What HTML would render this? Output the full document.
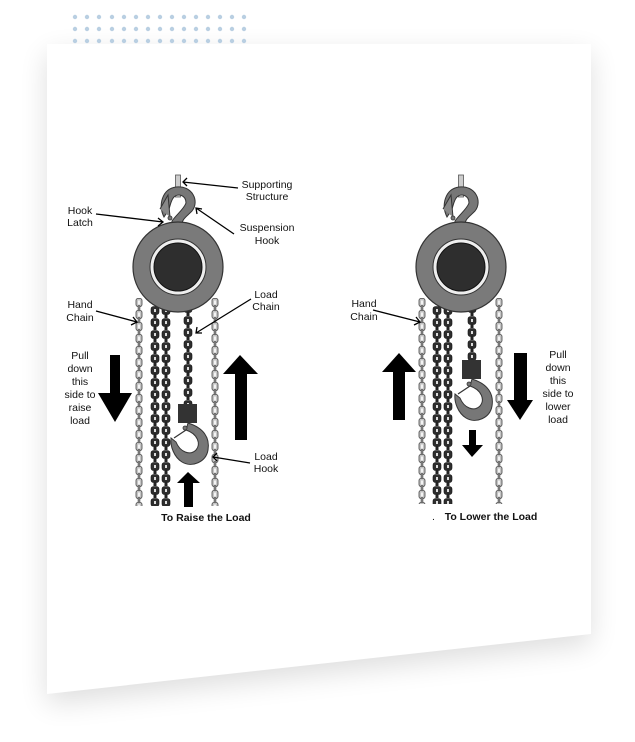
<!DOCTYPE html>
<html><head><meta charset="utf-8"><style>
html,body{margin:0;padding:0;background:#fff;}
svg{display:block}
text{font-family:"Liberation Sans",Arial,sans-serif;font-size:10.5px;fill:#111}
</style></head><body>
<svg width="635" height="742" viewBox="0 0 635 742" xmlns="http://www.w3.org/2000/svg">
<defs>
<filter id="sh" x="-20%" y="-20%" width="140%" height="140%"><feGaussianBlur stdDeviation="14"/></filter>
<pattern id="hand" x="-4" y="0" width="8" height="12" patternUnits="userSpaceOnUse">
<rect x="1" y="0.5" width="6" height="8" rx="2" fill="#c4c4c4" stroke="#444" stroke-width="0.8"/>
<rect x="3.2" y="2.5" width="1.6" height="4" fill="#fff"/>
<rect x="3" y="7.5" width="2" height="5" fill="#888" stroke="#444" stroke-width="0.5"/>
</pattern>
<pattern id="dark" x="-5" y="0" width="10" height="12" patternUnits="userSpaceOnUse">
<rect x="1" y="0.5" width="8" height="8" rx="2.5" fill="#2e2e2e" stroke="#111" stroke-width="0.6"/>
<rect x="4" y="3" width="2" height="3" fill="#ddd"/>
<rect x="3.5" y="7.5" width="3" height="5" fill="#222"/>
</pattern>
<g id="hoist">
<rect x="-2.5" y="-92" width="5" height="22" fill="#ccc" stroke="#555" stroke-width="0.8"/>
<path d="M-14 -50 C-20 -62 -16 -78 -2 -80 C14 -82 22 -66 14 -56 C8 -50 4 -48 4 -42 L6 -40 L-6 -40 L-6 -46 C-2 -52 6 -58 8 -64 C8 -72 0 -74 -4 -70 C-8 -66 -8 -58 -10 -56 Z" fill="#777" stroke="#333" stroke-width="1"/>
<path d="M-18 -58 L-10 -72 L-8 -50" fill="#888" stroke="#333" stroke-width="1"/>
<circle cx="-8" cy="-49" r="2" fill="#777" stroke="#333" stroke-width="0.8"/>
<circle cx="0" cy="0" r="45" fill="#7a7a7a" stroke="#333" stroke-width="1.2"/>
<circle cx="0" cy="0" r="28" fill="#eee" stroke="#333" stroke-width="1"/>
<circle cx="0" cy="0" r="24" fill="#2e2e2e" stroke="#111" stroke-width="1"/>
</g>
<g id="hook">
<rect x="-10" y="-20" width="19" height="19" fill="#333"/>
<path d="M0 -1 C16 4 22 14 20 26 C18 38 4 44 -6 38 C-14 33 -18 22 -17 14 L-12 18 C-8 28 2 32 8 26 C13 20 10 10 -2 6 Z" fill="#777" stroke="#333" stroke-width="1"/>
<path d="M-2 6 L-14 14" stroke="#333" stroke-width="1.2"/>
<circle cx="-3" cy="4" r="2" fill="#777" stroke="#333" stroke-width="0.8"/>
</g>
</defs>
<!-- card shadow -->
<polygon points="47,44 591,44 591,634 47,694" fill="#000" opacity="0.13" filter="url(#sh)" transform="translate(0,10)"/>
<polygon points="47,44 591,44 591,634 47,694" fill="#fff"/>
<!-- dots -->
<g fill="#b9cfe2">
<circle cx="75" cy="17" r="2.2"/><circle cx="87" cy="17" r="2.2"/><circle cx="99" cy="17" r="2.2"/><circle cx="112" cy="17" r="2.2"/><circle cx="124" cy="17" r="2.2"/><circle cx="136" cy="17" r="2.2"/><circle cx="148" cy="17" r="2.2"/><circle cx="160" cy="17" r="2.2"/><circle cx="172" cy="17" r="2.2"/><circle cx="184" cy="17" r="2.2"/><circle cx="196" cy="17" r="2.2"/><circle cx="208" cy="17" r="2.2"/><circle cx="220" cy="17" r="2.2"/><circle cx="232" cy="17" r="2.2"/><circle cx="244" cy="17" r="2.2"/>
<circle cx="75" cy="29" r="2.2"/><circle cx="87" cy="29" r="2.2"/><circle cx="99" cy="29" r="2.2"/><circle cx="112" cy="29" r="2.2"/><circle cx="124" cy="29" r="2.2"/><circle cx="136" cy="29" r="2.2"/><circle cx="148" cy="29" r="2.2"/><circle cx="160" cy="29" r="2.2"/><circle cx="172" cy="29" r="2.2"/><circle cx="184" cy="29" r="2.2"/><circle cx="196" cy="29" r="2.2"/><circle cx="208" cy="29" r="2.2"/><circle cx="220" cy="29" r="2.2"/><circle cx="232" cy="29" r="2.2"/><circle cx="244" cy="29" r="2.2"/>
<circle cx="75" cy="41" r="2.2"/><circle cx="87" cy="41" r="2.2"/><circle cx="99" cy="41" r="2.2"/><circle cx="112" cy="41" r="2.2"/><circle cx="124" cy="41" r="2.2"/><circle cx="136" cy="41" r="2.2"/><circle cx="148" cy="41" r="2.2"/><circle cx="160" cy="41" r="2.2"/><circle cx="172" cy="41" r="2.2"/><circle cx="184" cy="41" r="2.2"/><circle cx="196" cy="41" r="2.2"/><circle cx="208" cy="41" r="2.2"/><circle cx="220" cy="41" r="2.2"/><circle cx="232" cy="41" r="2.2"/><circle cx="244" cy="41" r="2.2"/>
</g>

<!-- LEFT FIGURE -->
<g transform="translate(139,298)"><rect x="-4" y="0" width="8" height="208" fill="url(#hand)"/></g>
<g transform="translate(215,298)"><rect x="-4" y="0" width="8" height="208" fill="url(#hand)"/></g>
<g transform="translate(155,306)"><rect x="-5" y="0" width="10" height="200" fill="url(#dark)"/></g>
<g transform="translate(166,306)"><rect x="-5" y="0" width="10" height="200" fill="url(#dark)"/></g>
<g transform="translate(188,304)"><rect x="-5" y="0" width="10" height="100" fill="url(#dark)"/></g>
<use href="#hoist" x="178" y="267"/>
<use href="#hook" x="188" y="424"/>
<!-- arrows left -->
<polygon points="110,355 120,355 120,393 132,393 115,422 98,393 110,393" fill="#000"/>
<polygon points="240,355 258,374 247,374 247,440 235,440 235,374 223,374" fill="#000"/>
<polygon points="188,472 200,483 193,483 193,507 184,507 184,483 177,483" fill="#000"/>
<!-- pointer lines -->
<g stroke="#000" stroke-width="1.3" fill="none">
<path d="M238 188 L183 182 M187 178 L183 182 L187 186"/>
<path d="M96 214 L163 222 M158 218 L163 222 L158 226"/>
<path d="M234 234 L196 208 M197 214 L196 208 L202 209"/>
<path d="M251 299 L196 333 M197 327 L196 333 L202 333"/>
<path d="M96 311 L137 322 M133 317 L137 322 L131 325"/>
<path d="M250 463 L213 457 M217 453 L213 457 L217 461"/>
</g>
<text x="267" y="188" text-anchor="middle">Supporting</text>
<text x="267" y="200" text-anchor="middle">Structure</text>
<text x="80" y="214" text-anchor="middle">Hook</text>
<text x="80" y="226" text-anchor="middle">Latch</text>
<text x="267" y="231" text-anchor="middle">Suspension</text>
<text x="267" y="244" text-anchor="middle">Hook</text>
<text x="266" y="298" text-anchor="middle">Load</text>
<text x="266" y="310" text-anchor="middle">Chain</text>
<text x="80" y="308" text-anchor="middle">Hand</text>
<text x="80" y="321" text-anchor="middle">Chain</text>
<g text-anchor="middle">
<text x="80" y="359">Pull</text><text x="80" y="372">down</text><text x="80" y="385">this</text><text x="80" y="398">side to</text><text x="80" y="411">raise</text><text x="80" y="424">load</text>
</g>
<text x="266" y="460" text-anchor="middle">Load</text>
<text x="266" y="472" text-anchor="middle">Hook</text>
<text x="206" y="521" text-anchor="middle" style="font-weight:bold">To Raise the Load</text>

<!-- RIGHT FIGURE -->
<g transform="translate(422,298)"><rect x="-4" y="0" width="8" height="206" fill="url(#hand)"/></g>
<g transform="translate(499,298)"><rect x="-4" y="0" width="8" height="206" fill="url(#hand)"/></g>
<g transform="translate(437,306)"><rect x="-5" y="0" width="10" height="198" fill="url(#dark)"/></g>
<g transform="translate(448,306)"><rect x="-5" y="0" width="10" height="198" fill="url(#dark)"/></g>
<g transform="translate(472,304)"><rect x="-5" y="0" width="10" height="56" fill="url(#dark)"/></g>
<use href="#hoist" x="461" y="267"/>
<use href="#hook" x="472" y="380"/>
<polygon points="399,353 416,372 405,372 405,420 393,420 393,372 382,372" fill="#000"/>
<polygon points="514,353 527,353 527,400 533,400 520,420 507,400 514,400" fill="#000"/>
<polygon points="469,430 476,430 476,445 483,445 472,457 462,445 469,445" fill="#000"/>
<g stroke="#000" stroke-width="1.3" fill="none">
<path d="M373 310 L420 322 M416 317 L420 322 L414 325"/>
</g>
<text x="364" y="307" text-anchor="middle">Hand</text>
<text x="364" y="320" text-anchor="middle">Chain</text>
<g text-anchor="middle">
<text x="558" y="358">Pull</text><text x="558" y="371">down</text><text x="558" y="384">this</text><text x="558" y="397">side to</text><text x="558" y="410">lower</text><text x="558" y="423">load</text>
</g>
<text x="432" y="520">.</text>
<text x="491" y="520" text-anchor="middle" style="font-weight:bold">To Lower the Load</text>
</svg>
</body></html>
